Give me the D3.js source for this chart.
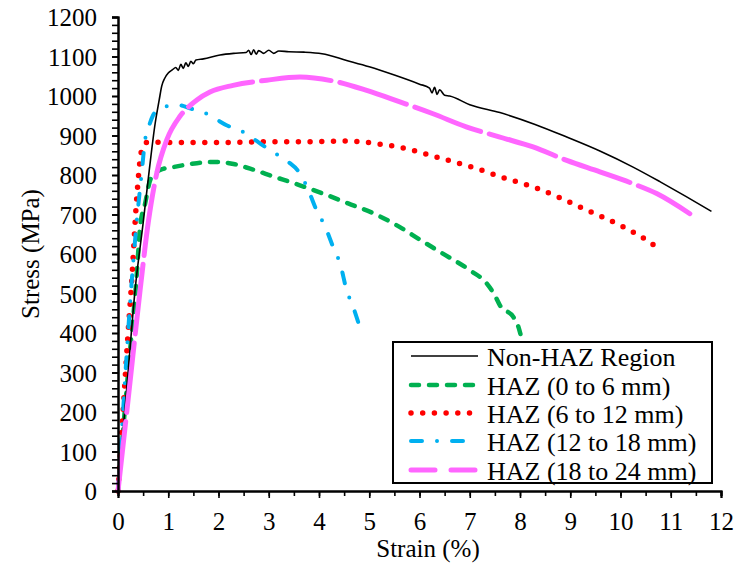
<!DOCTYPE html>
<html>
<head>
<meta charset="utf-8">
<script src="https://cdn.jsdelivr.net/npm/d3@7"></script>
<style>
  html, body { margin: 0; padding: 0; background: #fff; }
  svg { display: block; }
</style>
</head>
<body>
<svg id="chart" width="749" height="565"></svg>
<script>
// ---------- data (strain %, stress MPa) ----------
const nonHAZ = [[0,0],[0.1,150],[0.2,300],[0.34,509],[0.5,678],[0.62,810],[0.74,931],[0.82,990],[0.87,1025],[0.93,1045],[1.0,1058],[1.08,1066],[1.15,1072],[1.2,1065],[1.25,1080],[1.3,1070],[1.35,1084],[1.4,1075],[1.45,1088],[1.5,1082],[1.55,1091],[1.7,1094],[2.03,1104],[2.3,1108],[2.55,1110],[2.6,1116],[2.65,1105],[2.7,1117],[2.75,1106],[2.8,1115],[2.9,1108],[3.0,1116],[3.1,1108],[3.2,1114],[3.4,1112],[3.7,1111],[4.06,1107],[4.55,1090],[5.0,1074],[5.5,1053],[6.0,1030],[6.2,1020],[6.25,1008],[6.3,1022],[6.35,1004],[6.4,1016],[6.5,1002],[6.6,1000],[7.0,978],[7.6,958],[8.3,928],[8.93,896],[9.6,860],[10.25,820],[10.8,782],[11.3,746],[11.81,708]];
const haz0to6 = [[0,0],[0.2,300],[0.37,542],[0.44,669],[0.54,728],[0.64,787],[0.75,805],[0.84,813],[1.1,820],[1.57,830],[1.96,833],[2.3,828],[2.63,816],[3.1,796],[3.62,774],[4.1,752],[4.58,728],[5.1,702],[5.61,668],[6.0,637],[6.41,605],[7.0,559],[7.34,525],[7.5,495],[7.6,470],[7.87,440],[7.97,415],[8.01,397]];
const haz6to12 = [[0,0],[0.1,200],[0.2,400],[0.27,526],[0.37,737],[0.47,863],[0.53,878],[0.6,884],[1,882],[2,882],[3,884],[3.62,884],[4.5,886],[5.28,877],[5.8,865],[6.21,850],[7.14,816],[7.7,792],[8.26,770],[8.8,742],[9.33,711],[9.99,673],[10.42,643],[10.83,607]];
const haz12to18 = [[0,0],[0.1,200],[0.2,400],[0.27,526],[0.37,678],[0.47,804],[0.54,889],[0.62,925],[0.7,952],[0.8,965],[0.94,973],[1.2,977],[1.45,968],[1.7,959],[1.93,943],[2.16,926],[2.43,913],[2.69,892],[2.93,871],[3.19,850],[3.39,833],[3.62,804],[3.79,761],[3.95,711],[4.12,670],[4.28,618],[4.43,571],[4.55,508],[4.68,466],[4.86,394]];
const haz18to24 = [[0,0],[0.2,230],[0.44,509],[0.6,678],[0.77,804],[0.97,889],[1.23,948],[1.4,972],[1.57,990],[1.83,1010],[2.29,1027],[2.96,1040],[3.62,1048],[4.28,1038],[4.95,1014],[5.61,985],[6.27,955],[6.93,922],[7.6,896],[8.26,871],[8.93,837],[9.59,808],[10.25,778],[10.72,753],[11.38,702]];

const seriesNames = ["Non-HAZ Region","HAZ (0 to 6 mm)","HAZ (6 to 12 mm)","HAZ (12 to 18 mm)","HAZ (18 to 24 mm)"];
const xTicks = [0,1,2,3,4,5,6,7,8,9,10,11,12];
const yTicks = [0,100,200,300,400,500,600,700,800,900,1000,1100,1200];
const xTitle = "Strain (%)";
const yTitle = "Stress (MPa)";

// ---------- styles ----------
const styles = [
  {data: nonHAZ,    color: "#000000", width: 1.6, dash: null,          legendDash: null,         cap: "butt"},
  {data: haz0to6,   color: "#00B050", width: 4.5, dash: "8 10",        legendDash: "8 10",       cap: "round"},
  {data: haz6to12,  color: "#FF0000", width: 5.5, dash: "0 11.7",      legendDash: "0 11.7",     cap: "round"},
  {data: haz12to18, color: "#00B0F0", width: 4,   dash: "11 15 0 15",  legendDash: "11 15 0 15", cap: "round"},
  {data: haz18to24, color: "#FF66FF", width: 5,   dash: "70 9",        legendDash: "24 16",      cap: "round"}
];
const drawOrder = [1, 2, 3, 0, 4];
const FONT = "'Liberation Serif'";

const svg = d3.select("#chart");
svg.append("rect").attr("width", 749).attr("height", 565).attr("fill", "#fff");

const x = d3.scaleLinear().domain([0, 12]).range([118, 721]);
const y = d3.scaleLinear().domain([0, 1200]).range([491, 17]);

const FS = 25;

// curves
const line = d3.line().x(d => x(d[0])).y(d => y(d[1])).curve(d3.curveMonotoneX);
const g = svg.append("g");
drawOrder.forEach(i => {
  const s = styles[i];
  g.append("path")
    .attr("d", line(s.data))
    .attr("fill", "none")
    .attr("stroke", s.color)
    .attr("stroke-width", s.width)
    .attr("stroke-linecap", s.cap)
    .attr("stroke-linejoin", "round")
    .attr("stroke-dasharray", s.dash);
});

// y axis
const yMinor = svg.append("g").attr("transform", `translate(${x(0)},0)`)
  .call(d3.axisLeft(y).tickValues(d3.range(0, 1201, 20)).tickSize(6).tickFormat(""));
const yMajor = svg.append("g").attr("transform", `translate(${x(0)},0)`)
  .call(d3.axisLeft(y).tickValues(yTicks).tickSize(6).tickPadding(15).tickFormat(d3.format("d")));
// x axis
const xMinor = svg.append("g").attr("transform", `translate(0,${y(0)})`)
  .call(d3.axisBottom(x).tickValues(d3.range(0, 12.01, 0.5)).tickSize(5).tickFormat(""));
const xMajor = svg.append("g").attr("transform", `translate(0,${y(0)})`)
  .call(d3.axisBottom(x).tickValues(xTicks).tickSize(7).tickPadding(15).tickFormat(d3.format("d")));

[yMinor, yMajor, xMinor, xMajor].forEach(a => {
  a.attr("font-family", null).attr("font-size", null);
  a.selectAll("path.domain").attr("stroke", "#000").attr("stroke-width", 2);
  a.selectAll(".tick line").attr("stroke", "#000").attr("stroke-width", 1.6);
  a.selectAll("text").style("font-family", FONT).style("font-size", FS + "px").attr("fill", "#000");
});
yMajor.selectAll("text").attr("dy", "0.34em");
xMajor.selectAll("text").attr("dy", null).attr("y", 39);

// titles
svg.append("text")
  .attr("transform", "translate(39,254) rotate(-90)")
  .attr("text-anchor", "middle")
  .style("font-family", FONT).style("font-size", FS + "px")
  .text(yTitle);
svg.append("text")
  .attr("x", 428).attr("y", 557)
  .attr("text-anchor", "middle")
  .style("font-family", FONT).style("font-size", FS + "px")
  .text(xTitle);

// legend
const lg = svg.append("g");
lg.append("rect")
  .attr("x", 393).attr("y", 342).attr("width", 319).attr("height", 141)
  .attr("fill", "#fff").attr("stroke", "#000").attr("stroke-width", 2);
const rowY = [356, 385, 413, 441, 470];
seriesNames.forEach((name, i) => {
  const s = styles[i];
  lg.append("line")
    .attr("x1", 411).attr("x2", 478)
    .attr("y1", rowY[i]).attr("y2", rowY[i])
    .attr("stroke", s.color)
    .attr("stroke-width", s.width)
    .attr("stroke-linecap", s.cap)
    .attr("stroke-dasharray", s.legendDash);
  lg.append("text")
    .attr("x", 487).attr("y", rowY[i] + 10)
    .style("font-family", FONT).style("font-size", "26px")
    .text(name);
});
</script>
</body>
</html>
